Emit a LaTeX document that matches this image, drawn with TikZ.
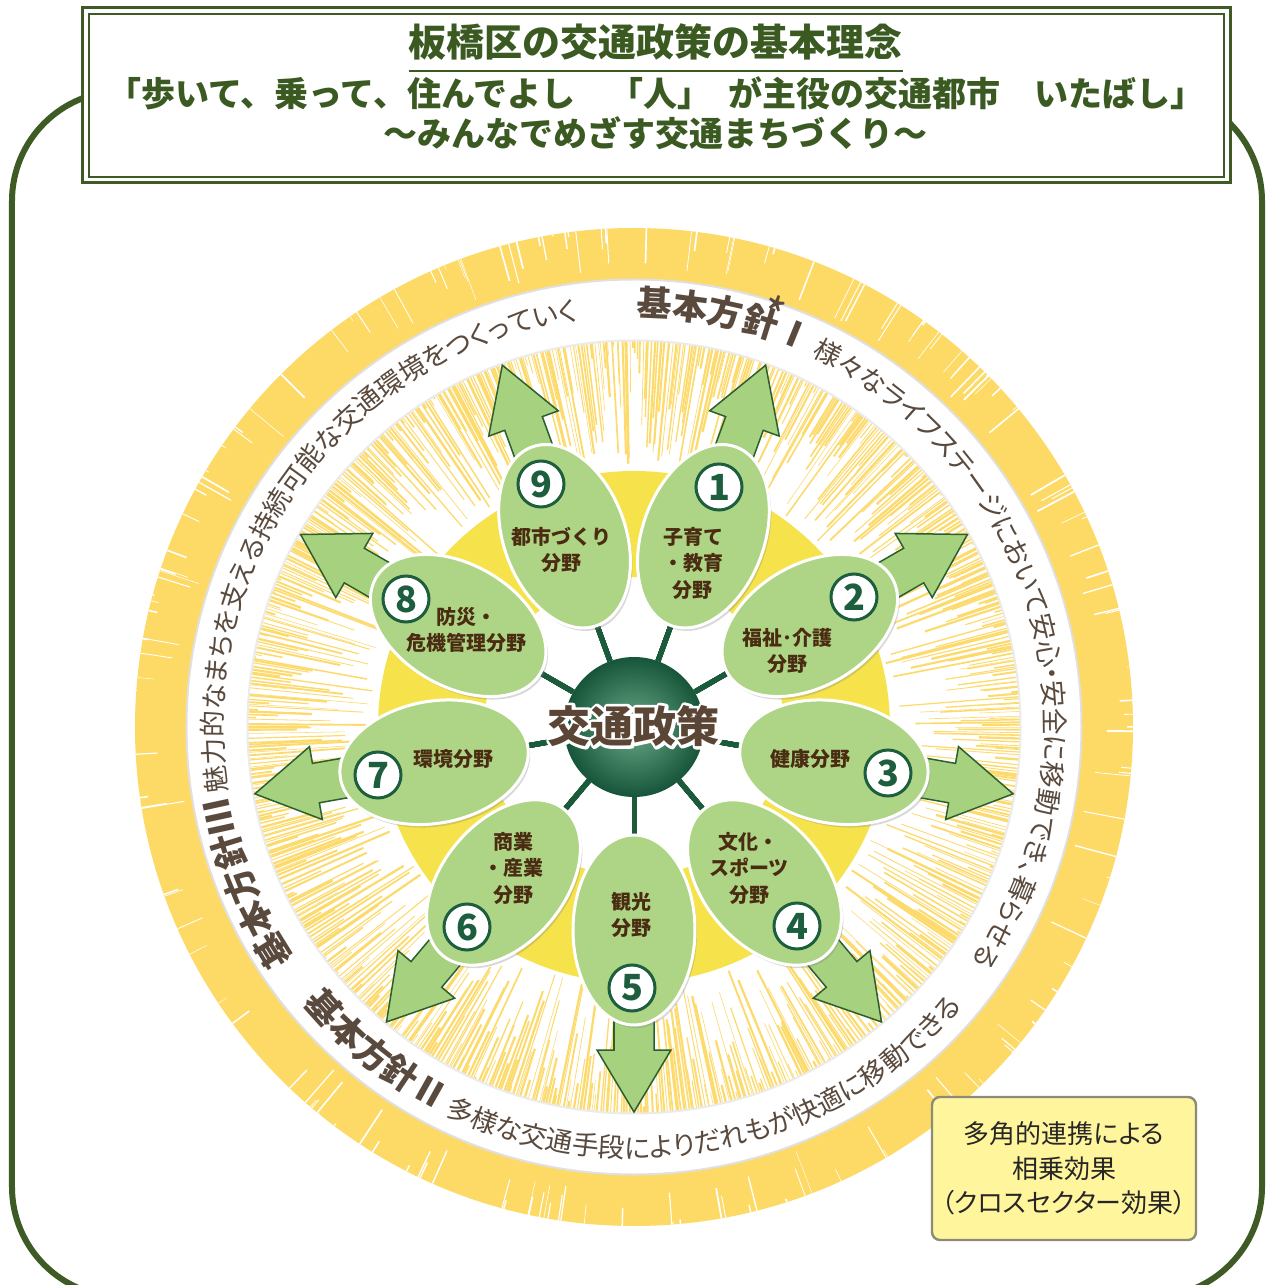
\documentclass[tikz,border=0pt]{standalone}
\usepackage{fontspec}
\setmainfont{Noto Sans CJK JP}
\newfontfamily\bandfont{Noto Sans CJK JP}[RawFeature=+palt]
\usetikzlibrary{shapes.geometric,decorations.text,shadows,calc}

\definecolor{framegreen}{HTML}{3E5B25}
\definecolor{titlegreen}{HTML}{3B5A22}
\definecolor{ringyellow}{HTML}{FDD966}
\definecolor{streakyellow}{HTML}{FDDA6C}
\definecolor{coreyellow}{HTML}{F6E34C}
\definecolor{petalgreen}{HTML}{AED585}
\definecolor{arrowgreen}{HTML}{A6D27F}
\definecolor{arrowline}{HTML}{2B5F2F}
\definecolor{numgreen}{HTML}{1C5E3E}
\definecolor{spokegreen}{HTML}{1B5A3A}
\definecolor{ballin}{HTML}{6AAA88}
\definecolor{ballout}{HTML}{17553A}
\definecolor{fieldbrown}{HTML}{4A2C12}
\definecolor{bandtext}{HTML}{5A4A3E}
\definecolor{policybrown}{HTML}{5B4636}
\definecolor{boxfill}{HTML}{FFF59D}
\definecolor{boxline}{HTML}{8C8A78}

\pgfdeclarelayer{bg}
\pgfdeclarelayer{mid}
\pgfsetlayers{bg,mid,main}

\newcommand{\bandbold}{\color{bandtext}\bandfont\bfseries\fontsize{17.5}{18}\selectfont}
\newcommand{\bandplain}{\color{bandtext}\bandfont\fontsize{13.4}{14}\selectfont}
\newcommand{\fieldarrow}[1]{\draw[arrowbody, rotate=#1] (250,-20) -- (323,-20) -- (323,-37) -- (385,0) -- (323,37) -- (323,20) -- (250,20) -- cycle;}
\newcommand{\outlined}[1]{\special{pdf:literal direct 1 Tr 3 w 1 J 1 j 1 1 1 RG}#1\special{pdf:literal direct 0 Tr 0.4 w}}

\tikzset{
	petal/.style={ellipse, fill=petalgreen, draw=white, line width=1.5pt, minimum width=95pt, minimum height=61pt, inner sep=0pt,
			drop shadow={shadow xshift=1pt, shadow yshift=-1.5pt, opacity=.3}},
	fieldtext/.style={align=center, inner sep=0pt, text=fieldbrown, font=\bfseries\fontsize{10}{13.25}\selectfont},
	numcircle/.style={circle, draw=numgreen, fill=white, line width=1.5pt, minimum size=23pt, inner sep=0pt, text=numgreen,
			font=\bfseries\fontsize{18}{18}\selectfont},
	spoke/.style={draw=spokegreen, line width=2.5pt},
	arrowbody/.style={fill=arrowgreen, draw=arrowline, line width=0.75pt, line join=miter},
	streak/.style={draw=streakyellow},
	policytext/.style={inner sep=0pt, text=policybrown, font=\bfseries\fontsize{21.5}{22}\selectfont},
	titletext/.style={inner sep=0pt, text=titlegreen, font=\bfseries\fontsize{17}{17}\selectfont}
}

\begin{document}
\begin{tikzpicture}[x=0.5pt,y=0.5pt]
	\useasboundingbox (-634,-558) rectangle (637,727);

	\begin{pgfonlayer}{bg}
		\draw[framegreen, line width=3pt, rounded corners=55pt] (-622,-570) rectangle (628,636);
		\fill[ringyellow] (0,0) circle[radius=499];
		\pgfmathsetseed{7}
		\foreach \k in {1,...,160}{
			\pgfmathsetmacro\ang{360*rnd}
			\pgfmathsetmacro\rr{499-45*rnd}
			\pgfmathsetmacro\lw{0.2+0.7*rnd}
			\draw[white, line width=\lw pt] (\ang:499) -- (\ang:\rr);
		}
		\fill[white] (0,0) circle[radius=447];
		\foreach \a in {0,0.4,...,359.8}{
			\pgfmathsetmacro\ang{\a+0.4*rnd}
			\pgfmathsetmacro\rr{387-128*rnd}
			\pgfmathsetmacro\lw{0.25+0.95*rnd}
			\draw[streak, line width=\lw pt] (\ang:387) -- (\ang:\rr);
		}
		\draw[black!12, line width=1pt] (0,0) circle[radius=447.5];
		\draw[black!8, line width=1pt] (0,0) circle[radius=386.5];
		\fill[coreyellow, even odd rule] (0,0) circle[radius=256] circle[radius=150];

		\path[decorate, decoration={text along path, text align=left,
						text={|\bandbold|基本方針Ⅰ|\bandplain| 様々なライフステージにおいて安心・安全に移動でき、暮らせる}}]
			(89.7:411) arc[start angle=89.7, end angle=-70, radius=411];
		\path[decorate, decoration={text along path, text align=left,
						text={|\bandbold|基本方針Ⅲ|\bandplain| 魅力的なまちを支える持続可能な交通環境をつくっていく}}]
			(214.2:411) arc[start angle=214.2, end angle=70, radius=411];
		\path[decorate, decoration={text along path, text align=left,
						text={|\bandbold|基本方針Ⅱ|\bandplain| 多様な交通手段によりだれもが快適に移動できる}}]
			(219.8:431) arc[start angle=219.8, end angle=345, radius=431];
		\node[rotate=-18.8, inner sep=0pt, text=bandtext, font=\fontsize{24}{24}\selectfont] (star) at (71.4:436) {*};
	\end{pgfonlayer}

	\foreach \n/\a in {1/70,2/30,3/-10,4/-50,5/-90,6/-130,7/-170,8/150,9/110}
	\node[petal, rotate=\a] (p\n) at (\a:203) {};

	\node[circle, minimum size=70pt, inner sep=0pt, shading=radial, inner color=ballin, outer color=ballout] (ball) at (0,0) {};

	\begin{pgfonlayer}{mid}
		\foreach \a in {70,30,-10,-50,-90,-130,-170,150,110}
		\fieldarrow{\a}
		\foreach \n in {1,...,9}
		\draw[spoke] (ball) -- (p\n);
	\end{pgfonlayer}

	\node[fieldtext] (f1) at (59,164) {子育て\\・教育\\分野};
	\node[fieldtext] (f2) at (153,76) {福祉･介護\\分野};
	\node[fieldtext] (f3) at (176,-32) {健康分野};
	\node[fieldtext] (f4) at (115,-141) {文化・\\スポーツ\\分野};
	\node[fieldtext] (f5) at (-3,-188) {観光\\分野};
	\node[fieldtext] (f6) at (-120,-141) {商業\\・産業\\分野};
	\node[fieldtext] (f7) at (-180,-32) {環境分野};
	\node[fieldtext] (f8) at (-167,97) {防災・\\危機管理分野};
	\node[fieldtext] (f9) at (-72,177) {都市づくり\\分野};

	\node[numcircle] (n1) at (85,240) {1};
	\node[numcircle] (n2) at (220,130) {2};
	\node[numcircle] (n3) at (254,-46) {3};
	\node[numcircle] (n4) at (163,-199) {4};
	\node[numcircle] (n5) at (-2,-261) {5};
	\node[numcircle] (n6) at (-167,-200) {6};
	\node[numcircle] (n7) at (-256,-48) {7};
	\node[numcircle] (n8) at (-228,128) {8};
	\node[numcircle] (n9) at (-93,243) {9};

	\node[policytext, text=white] (policyhalo) at (0,1) {\outlined{交通政策}};
	\node[policytext] (policy) at (0,1) {交通政策};

	\draw[framegreen, line width=1.5pt, fill=white] (-551,544) rectangle (596,719);
	\draw[framegreen, line width=0.6pt] (-545,550) rectangle (590,713);
	\node[titletext, font=\bfseries\fontsize{19}{19}\selectfont] (title) at (22,685) {板橋区の交通政策の基本理念};
	\draw[titlegreen, line width=1pt] ([yshift=-5pt]title.south west) -- ([yshift=-5pt]title.south east);
	\node[titletext] (motto) at (22,634) {「歩いて、乗って、住んでよし　「人」\enspace が主役の交通都市　いたばし」};
	\node[titletext] (slogan) at (22,594) {～みんなでめざす交通まちづくり～};

	\node[rectangle, rounded corners=4pt, draw=boxline, line width=1.2pt, fill=boxfill, minimum width=132pt, minimum height=71.5pt,
		inner xsep=0pt, align=center, text=black!85, font=\bandfont\fontsize{13}{17.25}\selectfont] (synergy) at (430,-441.5)
	{多角的連携による\\相乗効果\\（クロスセクター効果）};
\end{tikzpicture}
\end{document}
